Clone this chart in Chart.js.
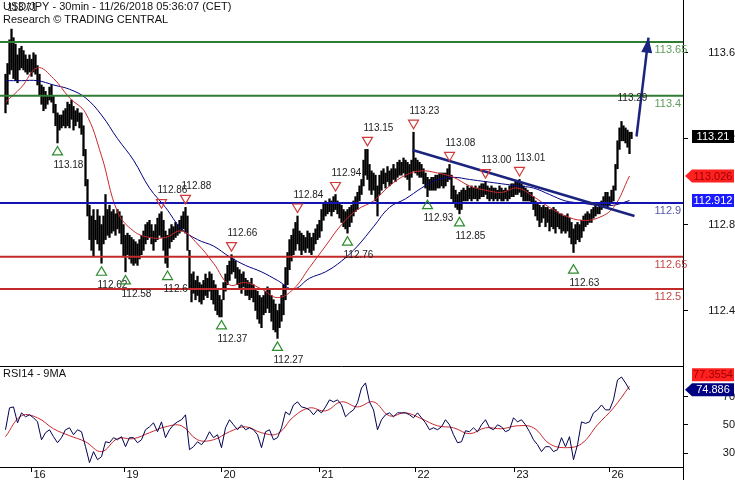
<!DOCTYPE html>
<html>
<head>
<meta charset="utf-8">
<script src="https://cdn.jsdelivr.net/npm/chart.js@4.4.1/dist/chart.umd.min.js"></script>
<style>
  html, body { margin: 0; padding: 0; background: #fff; }
  #wrap { position: relative; width: 735px; height: 480px; }
  #main { position: absolute; left: 0; top: 0; }
  #rsi { position: absolute; left: 0; top: 366px; }
</style>
</head>
<body>
<div id="wrap">
  <canvas id="main" width="735" height="366"></canvas>
  <canvas id="rsi" width="735" height="114"></canvas>
</div>
<script>
// USD/JPY 30min bars, one entry per bar (index 0 = first bar on the left)
const highs = [
  113.50, 113.55, 113.66, 113.71, 113.67, 113.64, 113.59, 113.62, 113.63, 113.61,
  113.59, 113.57, 113.59, 113.57, 113.60, 113.59, 113.54, 113.50, 113.45, 113.44,
  113.42, 113.40, 113.44, 113.45, 113.40, 113.36, 113.32, 113.31, 113.31, 113.33,
  113.34, 113.37, 113.36, 113.38, 113.35, 113.33, 113.34, 113.32, 113.32, 113.26,
  113.15, 113.01, 112.89, 112.84, 112.87, 112.82, 112.87, 112.84, 112.80, 112.84,
  112.94, 112.87, 112.89, 112.86, 112.87, 112.85, 112.87, 112.86, 112.84, 112.80,
  112.75, 112.76, 112.75, 112.74, 112.73, 112.72, 112.71, 112.73, 112.75, 112.77,
  112.80, 112.81, 112.82, 112.80, 112.77, 112.80, 112.83, 112.85, 112.86, 112.82,
  112.77, 112.75, 112.78, 112.80, 112.79, 112.81, 112.80, 112.82, 112.84, 112.86,
  112.88, 112.84, 112.68, 112.57, 112.58, 112.54, 112.56, 112.53, 112.52, 112.54,
  112.57, 112.55, 112.58, 112.57, 112.54, 112.52, 112.50, 112.47, 112.45, 112.53,
  112.57, 112.61, 112.63, 112.66, 112.64, 112.63, 112.60, 112.59, 112.57, 112.58,
  112.55, 112.54, 112.53, 112.55, 112.52, 112.50, 112.49, 112.47, 112.46, 112.47,
  112.49, 112.51, 112.50, 112.47, 112.45, 112.43, 112.40, 112.43, 112.47, 112.52,
  112.60, 112.67, 112.73, 112.75, 112.78, 112.81, 112.84, 112.77, 112.76, 112.75,
  112.74, 112.77, 112.76, 112.74, 112.76, 112.78, 112.80, 112.82, 112.87, 112.90,
  112.91, 112.90, 112.92, 112.91, 112.93, 112.94, 112.91, 112.90, 112.89, 112.87,
  112.86, 112.87, 112.88, 112.89, 112.91, 112.93, 112.95, 112.98, 113.01, 113.10,
  113.15, 113.15, 113.08, 113.05, 113.04, 113.03, 112.98, 113.03, 113.05, 113.06,
  113.04, 113.07, 113.05, 113.06, 113.08, 113.06, 113.09, 113.10, 113.09, 113.11,
  113.10, 113.09, 113.08, 113.10, 113.23, 113.11, 113.10, 113.09, 113.08, 113.06,
  113.04, 113.02, 113.01, 113.02, 113.02, 113.03, 113.03, 113.04, 113.04, 113.04,
  113.04, 113.06, 113.08, 113.03, 112.98, 112.96, 112.94, 112.95, 112.96, 112.97,
  112.96, 112.98, 112.97, 112.98, 112.97, 112.98, 112.97, 112.98, 112.99, 112.99,
  113.00, 112.98, 112.97, 112.98, 112.97, 112.97, 112.96, 112.98, 112.97, 112.96,
  112.97, 112.96, 112.98, 112.99, 112.99, 113.00, 113.00, 113.01, 112.99, 112.98,
  112.97, 112.96, 112.95, 112.95, 112.93, 112.91, 112.90, 112.89, 112.88, 112.89,
  112.88, 112.88, 112.87, 112.87, 112.88, 112.87, 112.86, 112.85, 112.85, 112.84,
  112.84, 112.85, 112.83, 112.81, 112.78, 112.80, 112.81, 112.80, 112.82, 112.84,
  112.85, 112.86, 112.85, 112.87, 112.88, 112.89, 112.88, 112.90, 112.91, 112.93,
  112.95, 112.95, 112.93, 112.96, 112.98, 113.08, 113.19, 113.25, 113.28, 113.26,
  113.25, 113.24, 113.23, 113.23
];
const lows = [
  113.32, 113.36, 113.50, 113.52, 113.48, 113.47, 113.46, 113.52, 113.53, 113.52,
  113.51, 113.50, 113.51, 113.49, 113.51, 113.50, 113.45, 113.40, 113.36, 113.33,
  113.34, 113.36, 113.38, 113.37, 113.32, 113.26, 113.18, 113.24, 113.25, 113.26,
  113.25, 113.26, 113.25, 113.29, 113.24, 113.26, 113.28, 113.25, 113.22, 113.12,
  112.98, 112.84, 112.73, 112.68, 112.65, 112.73, 112.71, 112.68, 112.62, 112.71,
  112.73, 112.75, 112.74, 112.76, 112.77, 112.75, 112.78, 112.76, 112.71, 112.65,
  112.58, 112.66, 112.64, 112.62, 112.61, 112.62, 112.61, 112.64, 112.66, 112.68,
  112.71, 112.73, 112.74, 112.71, 112.68, 112.72, 112.73, 112.75, 112.74, 112.68,
  112.62, 112.60, 112.69, 112.72, 112.73, 112.74, 112.75, 112.76, 112.77, 112.78,
  112.76, 112.68, 112.50, 112.44, 112.48, 112.45, 112.47, 112.44, 112.43, 112.45,
  112.47, 112.46, 112.49, 112.45, 112.43, 112.40, 112.38, 112.37, 112.37, 112.45,
  112.49, 112.52, 112.54, 112.57, 112.58, 112.55, 112.52, 112.50, 112.48, 112.51,
  112.47, 112.47, 112.45, 112.46, 112.44, 112.40, 112.36, 112.34, 112.32, 112.38,
  112.39, 112.41, 112.39, 112.35, 112.31, 112.30, 112.27, 112.32, 112.35, 112.38,
  112.45, 112.52, 112.59, 112.63, 112.66, 112.68, 112.71, 112.68, 112.66, 112.68,
  112.67, 112.69, 112.67, 112.66, 112.68, 112.71, 112.73, 112.74, 112.77, 112.82,
  112.84, 112.85, 112.86, 112.84, 112.86, 112.87, 112.85, 112.83, 112.81, 112.79,
  112.78, 112.76, 112.79, 112.81, 112.84, 112.86, 112.87, 112.91, 112.94, 112.98,
  113.03, 113.01, 112.96, 112.94, 112.96, 112.91, 112.84, 112.94, 112.96, 112.99,
  112.97, 113.00, 112.98, 112.99, 113.01, 113.00, 113.02, 113.03, 113.03, 113.04,
  113.02, 113.01, 112.96, 113.02, 113.05, 113.04, 113.03, 113.02, 113.02, 112.99,
  112.97, 112.93, 112.96, 112.96, 112.96, 112.96, 112.97, 112.97, 112.98, 112.97,
  112.98, 113.00, 113.01, 112.92, 112.90, 112.88, 112.87, 112.85, 112.87, 112.91,
  112.91, 112.91, 112.92, 112.91, 112.92, 112.92, 112.91, 112.92, 112.93, 112.93,
  112.94, 112.92, 112.91, 112.92, 112.91, 112.92, 112.91, 112.92, 112.91, 112.91,
  112.92, 112.91, 112.92, 112.93, 112.93, 112.94, 112.94, 112.95, 112.93, 112.91,
  112.91, 112.91, 112.91, 112.90, 112.87, 112.84, 112.82, 112.79, 112.81, 112.83,
  112.79, 112.81, 112.77, 112.79, 112.78, 112.76, 112.79, 112.78, 112.76, 112.77,
  112.76, 112.77, 112.74, 112.71, 112.67, 112.71, 112.73, 112.72, 112.74, 112.77,
  112.79, 112.80, 112.81, 112.81, 112.83, 112.84, 112.85, 112.85, 112.87, 112.88,
  112.89, 112.88, 112.89, 112.90, 112.91, 112.96, 113.06, 113.15, 113.19, 113.19,
  113.18, 113.16, 113.13, 113.20
];

// moving averages, read every 8th bar
const maStep = 8;
const redMa = [
  113.37, 113.44, 113.53, 113.48, 113.39, 113.32, 113.12, 112.86, 112.77, 112.74,
  112.74, 112.77, 112.71, 112.62, 112.52, 112.53, 112.50, 112.46, 112.50, 112.60,
  112.70, 112.80, 112.87, 112.91, 112.98, 113.03, 113.05, 113.04, 113.02, 112.98,
  112.96, 112.95, 112.97, 112.93, 112.88, 112.84, 112.82, 112.83, 112.88, 113.026
];
const blueMa = [
  113.47, 113.47, 113.47, 113.45, 113.43, 113.39, 113.31, 113.20, 113.10, 112.97,
  112.88, 112.78, 112.73, 112.70, 112.65, 112.61, 112.58, 112.54, 112.50, 112.55,
  112.58, 112.63, 112.70, 112.79, 112.88, 112.92, 112.97, 113.01, 113.02, 113.01,
  113.00, 112.99, 112.98, 112.97, 112.94, 112.91, 112.90, 112.89, 112.89, 112.912
];

// RSI14 read every 2nd bar, its 9MA every 8th bar
const rsiStep = 2;
const rsi = [
  46.5, 62.0, 62.7, 51.4, 58.5, 55.7, 57.1, 55.0, 52.1, 39.4,
  44.4, 46.5, 41.6, 37.3, 40.9, 46.5, 47.9, 43.0, 46.5, 45.1,
  34.5, 23.2, 31.0, 25.3, 27.4, 38.0, 37.3, 40.9, 39.4, 41.6,
  34.5, 40.9, 40.9, 37.3, 39.4, 46.5, 48.6, 51.4, 45.1, 52.1,
  40.9, 46.5, 50.0, 52.1, 53.6, 57.1, 32.4, 34.5, 38.0, 35.9,
  39.4, 45.1, 40.9, 43.0, 33.8, 47.9, 53.6, 50.0, 46.5, 50.0,
  46.5, 47.9, 46.5, 43.0, 33.8, 45.1, 46.5, 39.4, 40.9, 47.9,
  59.2, 57.1, 64.1, 66.3, 62.7, 62.0, 60.6, 57.1, 60.6, 58.5,
  62.7, 67.7, 66.3, 67.7, 64.1, 55.7, 58.5, 60.6, 65.6, 76.1,
  79.7, 66.3, 60.6, 46.5, 53.6, 57.1, 58.5, 55.7, 58.5, 58.5,
  58.5, 57.1, 55.0, 58.5, 55.0, 51.4, 46.5, 47.9, 46.5, 48.6,
  53.6, 50.0, 43.0, 37.3, 38.0, 45.8, 45.1, 47.9, 45.1, 50.0,
  53.6, 47.9, 46.5, 50.0, 48.6, 45.1, 46.5, 55.0, 52.1, 53.6,
  50.0, 45.1, 39.4, 35.9, 31.0, 34.5, 34.5, 31.0, 32.4, 40.9,
  34.5, 41.6, 25.3, 35.9, 52.1, 51.0, 52.1, 58.5, 60.6, 64.1,
  60.6, 60.6, 67.7, 81.8, 83.9, 79.7, 74.886
];
const rsiMaStep = 8;
const rsiMa = [
  41.6, 56.4, 55.0, 47.2, 42.3, 38.0, 31.0, 40.2, 40.2, 44.4,
  48.6, 49.3, 39.4, 39.4, 45.1, 48.6, 44.4, 43.7, 55.7, 62.0,
  59.9, 66.3, 62.7, 66.3, 56.4, 58.5, 54.3, 49.3, 47.9, 43.7,
  47.9, 47.2, 49.3, 47.9, 36.6, 33.8, 36.6, 50.0, 62.0, 77.3554
];

// support / resistance levels
const levels = [113.65, 113.4, 112.9, 112.65, 112.5];
const levelLabels = ['113.65', '113.4', '112.9', '112.65', '112.5'];

// swing high / low notes
const markIdx = [3, 26, 48, 60, 78, 81, 90, 108, 113, 136, 146, 165, 171, 181, 204, 211, 222, 227, 240, 257, 284, 308];
const markPrice = [113.71, 113.18, 112.62, 112.58, 112.86, 112.6, 112.88, 112.37, 112.66, 112.27, 112.84,
  112.94, 112.76, 113.15, 113.23, 112.93, 113.08, 112.85, 113.00, 113.01, 112.63, 113.29];
const markText = ['113.71', '113.18', '112.62', '112.58', '112.86', '112.6', '112.88', '112.37', '112.66', '112.27', '112.84',
  '112.94', '112.76', '113.15', '113.23', '112.93', '113.08', '112.85', '113.00', '113.01', '112.63', '113.29'];
const markKind = ['note', 'trough', 'trough', 'trough', 'peak', 'trough', 'peak', 'trough', 'peak', 'trough', 'peak',
  'peak', 'trough', 'peak', 'peak', 'trough', 'peak', 'trough', 'peak', 'peak', 'trough', 'note'];

// trend line and projection arrow (bar index, price)
const trendIdx = [203.5, 314.5];
const trendPrice = [113.147, 112.84];
const arrowIdx = [315.5, 321.5];
const arrowPrice = [113.21, 113.67];

// last values shown on the right axis
const lastPrice = 113.21;
const lastRsi = 74.886;

// day separators on the time axis
const dayTicks = [12.5, 59, 107.5, 156.5, 205, 254, 301.5];
const dayLabels = ['16', '19', '20', '21', '22', '23', '26'];

const mainTicks = [113.6, 113.2, 112.8, 112.4];
const rsiTicks = [70, 50, 30];

// ---- styling ----
const FONT = '"Liberation Sans", Arial, sans-serif';
const xMin = -2.75, xMax = 338.75;
const levelColors = ['#2f7d32', '#2f7d32', '#1414b4', '#c42a2a', '#c42a2a'];
const levelTextColors = ['#5d9d5d', '#5d9d5d', '#5656a6', '#c24848', '#c24848'];
const navy = '#1a237e';

function tagBox(ctx, area, yPix, text, bg, fg, arrow) {
  const left = area.right + 9, right = area.right + 51, h = 13;
  ctx.fillStyle = bg;
  ctx.beginPath();
  if (arrow) {
    ctx.moveTo(area.right + 2, yPix);
    ctx.lineTo(left, yPix - h / 2);
  } else {
    ctx.moveTo(left, yPix - h / 2);
  }
  ctx.lineTo(right, yPix - h / 2);
  ctx.lineTo(right, yPix + h / 2);
  ctx.lineTo(left, yPix + h / 2);
  ctx.closePath();
  ctx.fill();
  ctx.fillStyle = fg;
  ctx.font = '11px ' + FONT;
  ctx.textAlign = 'center';
  ctx.textBaseline = 'middle';
  ctx.fillText(text, (left + right) / 2, yPix + 0.5);
}

function triangle(ctx, cx, cy, dir, color) {
  ctx.strokeStyle = color;
  ctx.lineWidth = 1.2;
  ctx.beginPath();
  ctx.moveTo(cx, cy - 4.5 * dir);
  ctx.lineTo(cx - 5, cy + 4 * dir);
  ctx.lineTo(cx + 5, cy + 4 * dir);
  ctx.closePath();
  ctx.stroke();
}

const mainOverlay = {
  id: 'mainOverlay',
  afterDatasetsDraw(chart) {
    const { ctx, scales: { x, y } } = chart;
    ctx.save();
    // level captions
    ctx.font = '11px ' + FONT;
    ctx.textAlign = 'left';
    ctx.textBaseline = 'middle';
    levels.forEach((v, i) => {
      ctx.fillStyle = levelTextColors[i];
      ctx.fillText(levelLabels[i], x.getPixelForValue(324.5), y.getPixelForValue(v) + 8);
    });
    // arrow head
    const x0 = x.getPixelForValue(arrowIdx[0]), y0 = y.getPixelForValue(arrowPrice[0]);
    const x1 = x.getPixelForValue(arrowIdx[1]), y1 = y.getPixelForValue(arrowPrice[1]);
    const a = Math.atan2(y1 - y0, x1 - x0);
    const c = Math.cos(a), s = Math.sin(a);
    ctx.fillStyle = navy;
    ctx.beginPath();
    ctx.moveTo(x1, y1);
    ctx.lineTo(x1 - 15 * c + 5.5 * s, y1 - 15 * s - 5.5 * c);
    ctx.lineTo(x1 - 15 * c - 5.5 * s, y1 - 15 * s + 5.5 * c);
    ctx.closePath();
    ctx.fill();
    // swing notes
    ctx.font = '10px ' + FONT;
    markIdx.forEach((idx, i) => {
      const px = x.getPixelForValue(idx), py = y.getPixelForValue(markPrice[i]);
      ctx.fillStyle = '#222';
      if (markKind[i] === 'trough') {
        triangle(ctx, px, py + 8, 1, '#2e8b2e');
        ctx.fillText(markText[i], px - 4, py + 22);
      } else {
        if (markKind[i] === 'peak') triangle(ctx, px, py - 8, -1, '#d03a3a');
        ctx.fillText(markText[i], px - 4, py - 21);
      }
    });
    ctx.restore();
  },
  afterDraw(chart) {
    const { ctx, chartArea: area, scales: { y } } = chart;
    ctx.save();
    tagBox(ctx, area, y.getPixelForValue(lastPrice), String(lastPrice), '#000', '#fff', false);
    const redLast = redMa[redMa.length - 1], blueLast = blueMa[blueMa.length - 1];
    tagBox(ctx, area, y.getPixelForValue(redLast), String(redLast), '#ff2020', '#a00000', true);
    tagBox(ctx, area, y.getPixelForValue(blueLast), String(blueLast), '#1a1aff', '#fff', false);
    ctx.fillStyle = '#111';
    ctx.font = '11px ' + FONT;
    ctx.textAlign = 'left';
    ctx.textBaseline = 'middle';
    ctx.fillText('USD/JPY - 30min - 11/26/2018 05:36:07 (CET)', 3, 7);
    ctx.fillText('Research \u00A9 TRADING CENTRAL', 3, 20);
    ctx.restore();
  }
};

const rsiOverlay = {
  id: 'rsiOverlay',
  afterDraw(chart) {
    const { ctx, chartArea: area, scales: { x, y } } = chart;
    ctx.save();
    ctx.strokeStyle = '#000';
    ctx.lineWidth = 1;
    ctx.beginPath();
    ctx.moveTo(0, area.top + 0.5); ctx.lineTo(area.right, area.top + 0.5);
    ctx.moveTo(0, area.bottom + 0.5); ctx.lineTo(area.right, area.bottom + 0.5);
    ctx.moveTo(area.right + 0.5, area.bottom); ctx.lineTo(area.right + 0.5, chart.height);
    ctx.stroke();
    ctx.font = '11px ' + FONT;
    ctx.fillStyle = '#111';
    ctx.textAlign = 'left';
    ctx.textBaseline = 'middle';
    dayTicks.forEach((v, i) => {
      const px = Math.round(x.getPixelForValue(v)) + 0.5;
      ctx.beginPath();
      ctx.moveTo(px, area.bottom);
      ctx.lineTo(px, area.bottom + 5);
      ctx.stroke();
      ctx.fillText(dayLabels[i], px + 2, area.bottom + 8);
    });
    ctx.fillText('RSI14 - 9MA', 3, 8);
    const maLast = rsiMa[rsiMa.length - 1];
    const yRsi = y.getPixelForValue(lastRsi);
    const yMa = Math.min(y.getPixelForValue(maLast), yRsi - 15);
    tagBox(ctx, area, yMa, String(maLast), '#ff2020', '#a00000', false);
    tagBox(ctx, area, yRsi, String(lastRsi), '#000080', '#fff', true);
    ctx.restore();
  }
};

function rightAxis(min, max, ticks, pad) {
  return {
    type: 'linear',
    position: 'right',
    min: min,
    max: max,
    afterBuildTicks: (s) => { s.ticks = ticks.map(v => ({ value: v })); },
    afterFit: (s) => { s.width = 52; s.paddingTop = 0; s.paddingBottom = 0; },
    grid: { drawOnChartArea: false, drawTicks: true, tickLength: 5, color: '#000' },
    border: { display: true, color: '#000', width: 1 },
    ticks: { color: '#111', font: { family: FONT, size: 11 }, padding: pad, crossAlign: 'far' }
  };
}

const timeAxis = { type: 'linear', min: xMin, max: xMax, display: false, offset: false };

const mainDatasets = [];
levels.forEach((v, i) => {
  mainDatasets.push({
    type: 'line',
    data: [{ x: xMin, y: v }, { x: xMax, y: v }],
    borderColor: levelColors[i], borderWidth: 2, pointRadius: 0, order: 1
  });
});
mainDatasets.push({
  type: 'line',
  data: trendIdx.map((v, i) => ({ x: v, y: trendPrice[i] })),
  borderColor: navy, borderWidth: 2.5, pointRadius: 0, order: 0
});
mainDatasets.push({
  type: 'line',
  data: arrowIdx.map((v, i) => ({ x: v, y: arrowPrice[i] })),
  borderColor: navy, borderWidth: 2.5, pointRadius: 0, order: 0
});
mainDatasets.push({
  type: 'line',
  data: redMa.map((v, i) => ({ x: i * maStep, y: v })),
  borderColor: '#c8282d', borderWidth: 1, pointRadius: 0, tension: 0.4, order: 2
});
mainDatasets.push({
  type: 'line',
  data: blueMa.map((v, i) => ({ x: i * maStep, y: v })),
  borderColor: '#000080', borderWidth: 1, pointRadius: 0, tension: 0.4, order: 2
});
mainDatasets.push({
  type: 'bar',
  data: highs.map((h, i) => ({ x: i, y: [lows[i], h] })),
  backgroundColor: '#000', borderWidth: 0, barThickness: 1.6, order: 3
});

new Chart(document.getElementById('main'), {
  type: 'bar',
  data: { datasets: mainDatasets },
  options: {
    responsive: false,
    animation: false,
    events: [],
    layout: { padding: 0 },
    scales: { x: timeAxis, y: rightAxis(112.1416, 113.8455, mainTicks, 15) },
    plugins: { legend: { display: false }, tooltip: { enabled: false } }
  },
  plugins: [mainOverlay]
});

new Chart(document.getElementById('rsi'), {
  type: 'line',
  data: {
    datasets: [
      {
        data: rsi.map((v, i) => ({ x: i * rsiStep, y: v })),
        borderColor: '#000050', borderWidth: 1, pointRadius: 0, tension: 0
      },
      {
        data: rsiMa.map((v, i) => ({ x: i * rsiMaStep, y: v })),
        borderColor: '#c8282d', borderWidth: 1, pointRadius: 0, tension: 0.4
      }
    ]
  },
  options: {
    responsive: false,
    animation: false,
    events: [],
    layout: { padding: { top: 0, left: 0, right: 0, bottom: 13 } },
    scales: { x: timeAxis, y: rightAxis(20.1, 91.7, rsiTicks, 31) },
    plugins: { legend: { display: false }, tooltip: { enabled: false } }
  },
  plugins: [rsiOverlay]
});
</script>
</body>
</html>
